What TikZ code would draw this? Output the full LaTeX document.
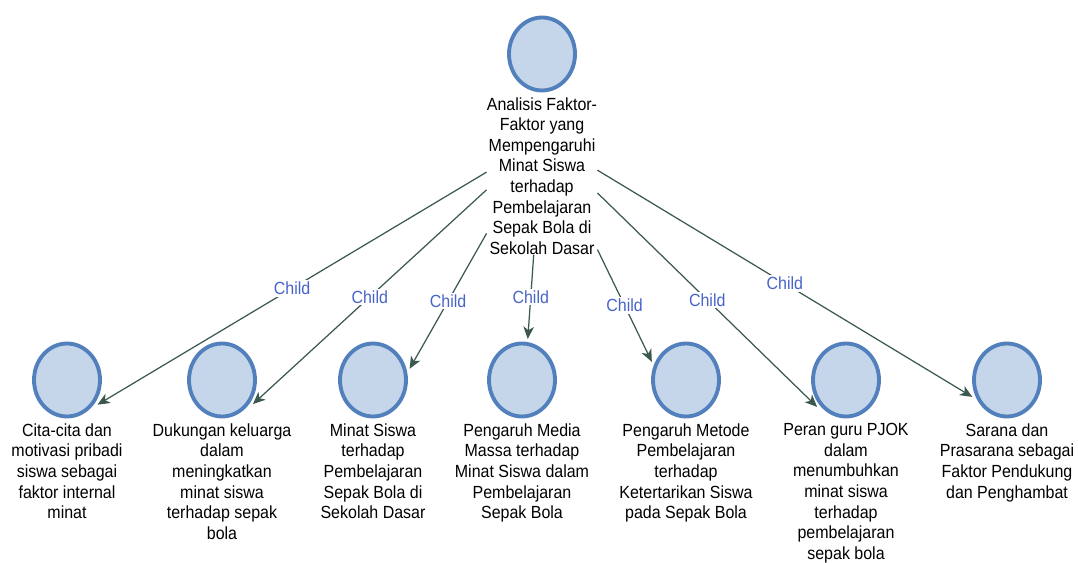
\documentclass[tikz,border=0pt]{standalone}
\usepackage{fontspec}
\setmainfont{Liberation Sans}[FakeStretch=0.91]
\usepackage{tikz}
\usetikzlibrary{arrows.meta,positioning,shapes.geometric}
\definecolor{cfill}{RGB}{198,214,234}
\definecolor{cline}{RGB}{82,128,188}
\definecolor{cedge}{RGB}{58,88,80}
\definecolor{cchild}{RGB}{72,100,200}

\begin{document}
\begin{tikzpicture}[x=0.02cm,y=-0.02cm,>={Stealth[length=7pt,width=6pt,inset=2pt]},
  topic node/.style={ellipse,draw=cline,fill=cfill,line width=2.2pt,inner sep=0pt,
    minimum width=1.32cm,minimum height=1.46cm,outer sep=0.1cm},
  text node/.style={align=center,inner sep=0pt,font=\fontsize{10}{11.7}\selectfont}]
  \useasboundingbox (0,0) rectangle (1078,563);

  \node[topic node] (r) at (542,54) {};
  \node[text node] (rt) [below=1pt of r] {Analisis Faktor-\\Faktor yang\\Mempengaruhi\\Minat Siswa\\terhadap\\Pembelajaran\\Sepak Bola di\\Sekolah Dasar};

  \node[topic node] (c1) at (67,380) {};
  \node[topic node] (c2) at (222,380) {};
  \node[topic node] (c3) at (373,380) {};
  \node[topic node] (c4) at (522,380) {};
  \node[topic node] (c5) at (686,380) {};
  \node[topic node] (c6) at (846,380) {};
  \node[topic node] (c7) at (1007,380) {};

  \node[text node] (t1) [below=1pt of c1] {Cita-cita dan\\motivasi pribadi\\siswa sebagai\\faktor internal\\minat};
  \node[text node] (t2) [below=1pt of c2] {Dukungan keluarga\\dalam\\meningkatkan\\minat siswa\\terhadap sepak\\bola};
  \node[text node] (t3) [below=1pt of c3] {Minat Siswa\\terhadap\\Pembelajaran\\Sepak Bola di\\Sekolah Dasar};
  \node[text node] (t4) [below=1pt of c4] {Pengaruh Media\\Massa terhadap\\Minat Siswa dalam\\Pembelajaran\\Sepak Bola};
  \node[text node] (t5) [below=1pt of c5] {Pengaruh Metode\\Pembelajaran\\terhadap\\Ketertarikan Siswa\\pada Sepak Bola};
  \node[text node] (t6) [below=1pt of c6] {Peran guru PJOK\\dalam\\menumbuhkan\\minat siswa\\terhadap\\pembelajaran\\sepak bola};
  \node[text node] (t7) [below=1pt of c7] {Sarana dan\\Prasarana sebagai\\Faktor Pendukung\\dan Penghambat};

  \path[every edge/.style={draw=cedge,line width=0.7pt,->},
    every node/.style={fill=white,inner sep=1pt,text=cchild,font=\fontsize{10}{12}\selectfont}]
    (rt.176) edge node {Child} (c1.-39)
    (rt.194) edge node {Child} (c2.-38)
    (rt.226) edge node {Child} (c3.17)
    (rt.264) edge node {Child} (c4.82)
    (rt.307) edge node {Child} (c5.152)
    (rt.343) edge node {Child} (c6.223)
    (rt.6) edge node {Child} (c7.206);
\end{tikzpicture}
\end{document}
